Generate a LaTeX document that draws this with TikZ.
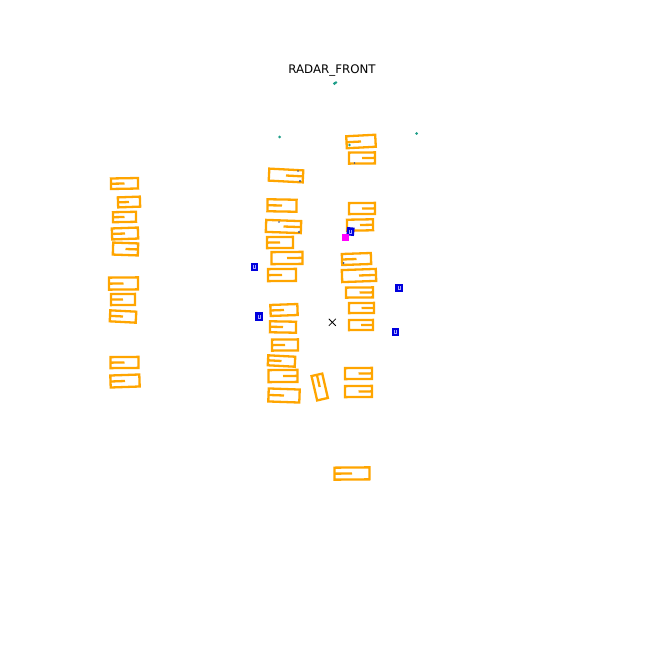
\documentclass[tikz,border=0pt]{standalone}
\usepackage{fontspec}
\usepackage{tikz}
\newfontfamily\plotfont{DejaVu Sans}
\definecolor{boxorange}{HTML}{FFA500}
\definecolor{detblue}{HTML}{0000DD}
\definecolor{detpink}{HTML}{FF00FF}
\definecolor{ptteal}{HTML}{1F9E89}
\definecolor{ptdark}{HTML}{3B528B}
\newcommand{\carbox}[6]{%
  \begin{scope}[shift={(#1,#2)},rotate=#5]
    \draw[track] (-#3/2,-#4/2) rectangle (#3/2,#4/2);
    \draw[track] (0,0) -- (#6*#3/2,0);
  \end{scope}}
\newcommand{\detsq}[3]{%
  \fill[detblue,rotate around={#3:(#1,#2)}] (#1-3.8,#2-4.2) rectangle (#1+3.8,#2+4.2);
  \draw[blue!35,line width=0.6] (#1-1.2,#2-2) -- (#1-1.2,#2+1.5) -- (#1+1.2,#2+1.5) -- (#1+1.2,#2-2);}

\begin{document}
\begin{tikzpicture}[x=1bp,y=-1bp,
    track/.style={boxorange,line width=2.3bp,line join=miter},
    pt/.style={fill=ptteal},
    ptd/.style={fill=ptdark}]
     \useasboundingbox (0,0) rectangle (648,648);
     \node[anchor=base] (title) at (332,73.3) {\plotfont\fontsize{11.8bp}{14bp}\selectfont RADAR\_FRONT};
     \carbox{124.5}{183.5}{27}{10.5}{1}{-1}
     \carbox{129}{202}{22}{10}{2}{-1}
     \carbox{124.5}{217}{23}{10}{1}{-1}
     \carbox{125}{233.5}{26}{11}{2}{-1}
     \carbox{125.5}{249}{25}{12}{-2}{1}
     \carbox{123.5}{283.5}{29}{12}{0.5}{-1}
     \carbox{123}{299.5}{24}{11}{0.5}{-1}
     \carbox{123}{316.5}{26}{11}{-3}{-1}
     \carbox{124.5}{362.5}{28}{11}{0.5}{-1}
     \carbox{125}{381}{29}{12}{2}{-1}
     \carbox{286}{175.5}{34}{12}{-3}{1}
     \carbox{282}{205.5}{29}{12}{-1}{-1}
     \carbox{283.5}{226.5}{35}{12}{-2}{1}
     \carbox{280}{242.5}{26}{11}{0.5}{-1}
     \carbox{287}{258}{31}{12}{0.5}{1}
     \carbox{282}{275}{28}{12}{0.5}{-1}
     \carbox{284}{310}{27}{11}{2}{-1}
     \carbox{283}{327}{26}{11}{-1}{-1}
     \carbox{285}{345}{26}{11}{0.5}{-1}
     \carbox{281.5}{361}{27}{10}{-3}{-1}
     \carbox{283}{376}{29}{12}{0.5}{1}
     \carbox{284}{395.5}{31}{13}{-2}{-1}
     \carbox{319.7}{387}{25}{11}{103}{1}
     \carbox{361}{141.5}{29}{12}{3}{-1}
     \carbox{362}{158}{26}{11}{0.5}{1}
     \carbox{362}{208.5}{26}{11}{0.5}{1}
     \carbox{360}{225}{26}{11}{1}{1}
     \carbox{356.5}{259}{29}{11}{2}{-1}
     \carbox{359}{275.5}{34}{12}{2}{1}
     \carbox{359.5}{292.5}{27}{10}{0.5}{1}
     \carbox{361.5}{308}{25}{10}{0.5}{1}
     \carbox{361}{325}{24}{10}{0.5}{1}
     \carbox{358.5}{373.5}{27}{11}{0.5}{1}
     \carbox{358.5}{391.5}{27}{11}{0.5}{1}
     \carbox{352}{473.5}{35}{12}{0.5}{-1}
     \detsq{254.5}{267}{0}
     \detsq{259}{316.5}{0}
     \detsq{350.5}{231.5}{-5}
     \detsq{399}{288}{0}
     \detsq{395.5}{332}{0}
     \fill[detpink] (341.8,233.8) rectangle (349,240.6);
     \fill[pt] (334.5,83.5) circle(1.6);
     \fill[pt] (336,82.5) circle(1.4);
     \fill[pt] (279.5,137) circle(1.5);
     \fill[pt] (416.5,133.5) circle(1.5);
     \fill[pt] (349.5,145) circle(1.3);
     \fill[ptd] (298,171) circle(0.9);
     \fill[ptd] (300,181) circle(1.1);
     \fill[ptd] (279,222) circle(0.9);
     \fill[ptd] (299,232) circle(1.1);
     \fill[ptd] (354.5,163) circle(0.8);
     \fill[ptd] (343.5,263) circle(1);
     \draw[line width=0.8] (328.8,318.8) -- (335.8,325.8) (328.8,325.8) -- (335.8,318.8);
    \end{tikzpicture}
\end{document}
